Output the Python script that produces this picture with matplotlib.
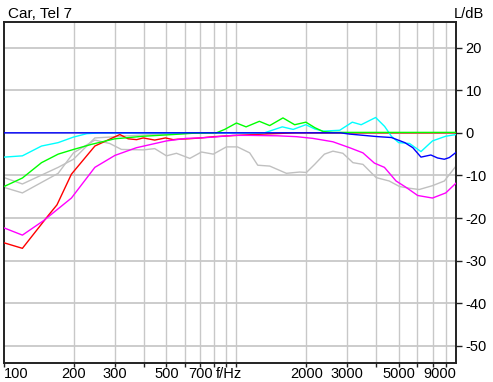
import matplotlib
matplotlib.use("Agg")
import matplotlib.pyplot as plt
from matplotlib.ticker import FixedLocator, NullLocator, NullFormatter

plt.rcParams['font.family'] = ['Liberation Sans', 'DejaVu Sans']

# Frequency response curves: (frequency in Hz, level in dB)
red_f = [100, 120, 155, 169, 195, 246, 267, 315, 342, 372, 397, 445, 495, 534, 560, 620, 700, 800, 1000, 1300, 1800, 9000]
red_db = [-25.8, -27.1, -19.4, -16.9, -9.7, -3.1, -2.2, -0.4, -1.4, -1.6, -1.2, -1.7, -1.2, -1.6, -1.5, -1.4, -1.2, -0.9, -0.6, -0.3, 0.0, 0.0]

magenta_f = [100, 120, 148, 195, 246, 300, 371, 500, 610, 700, 795, 965, 1140, 1500, 1810, 2130, 2600, 3070, 3500, 3920, 4330, 4860, 5370, 6020, 6970, 7950, 8800]
magenta_db = [-22.3, -24.0, -20.6, -15.3, -8.1, -5.3, -3.5, -1.9, -1.3, -1.2, -1.0, -0.6, -0.6, -0.7, -0.9, -1.3, -2.1, -3.5, -4.7, -7.1, -8.1, -11.3, -12.8, -14.7, -15.3, -14.1, -11.8]

cyan_f = [100, 120, 145, 171, 199, 227, 260, 1320, 1575, 1754, 1988, 2175, 2363, 2781, 3150, 3440, 3970, 4340, 4640, 4990, 5550, 6220, 6970, 7950, 8800]
cyan_db = [-5.7, -5.4, -3.1, -2.3, -1.0, -0.2, 0.0, 0.0, 1.4, 0.8, 1.9, 0.9, 0.4, 0.6, 2.5, 1.9, 3.6, 1.5, -0.8, -2.3, -2.5, -4.4, -1.9, -0.8, -0.4]

green_f = [100, 120, 145, 171, 199, 238, 300, 398, 534, 650, 820, 890, 1000, 1100, 1255, 1390, 1585, 1780, 1990, 2175, 2360, 2600, 8800]
green_db = [-12.6, -10.6, -7.0, -5.0, -3.9, -2.7, -1.4, -0.8, -0.4, -0.1, 0.0, 0.8, 2.3, 1.4, 2.7, 1.7, 3.5, 1.9, 2.5, 1.2, 0.3, 0.1, 0.1]

blue_f = [100, 2800, 3070, 4060, 4640, 5300, 5740, 6220, 6860, 7330, 7840, 8240, 8800]
blue_db = [0.0, 0.0, -0.3, -0.9, -1.1, -2.3, -3.5, -5.7, -5.2, -5.9, -6.2, -5.8, -4.6]

gray_a_f = [100, 120, 171, 199, 246, 285, 320, 400, 500, 700, 9000]
gray_a_db = [-10.5, -12.0, -8.1, -6.2, -1.2, -1.0, -0.8, -0.5, -0.3, 0.0, 0.0]

gray_b_f = [100, 120, 171, 199, 246, 285, 320, 398, 445, 500, 552, 630, 707, 795, 905, 1010, 1140, 1235, 1390, 1640, 1870, 2000, 2170, 2390, 2600, 2870, 3170, 3500, 3990, 4540, 5030, 5550, 6110, 6970, 7840, 8800]
gray_b_db = [-12.8, -14.1, -9.5, -4.7, -1.7, -2.5, -3.9, -4.0, -3.7, -5.4, -4.8, -6.0, -4.5, -5.0, -3.3, -3.3, -4.7, -7.6, -7.8, -9.5, -9.2, -9.3, -7.4, -5.0, -4.3, -4.8, -7.0, -7.4, -10.5, -11.3, -12.6, -13.0, -13.3, -12.4, -11.3, -7.8]

grid_freqs = [200, 300, 400, 500, 600, 700, 800, 900, 1000,
              2000, 3000, 4000, 5000, 6000, 7000, 8000]
x_label_freqs = [100, 200, 300, 500, 700, 2000, 3000, 5000]
x_labels = ["100", "200", "300", "500", "700", "2000", "3000", "5000"]
y_ticks = [20, 10, 0, -10, -20, -30, -40, -50]

F_MIN, F_MAX = 100, 8800
DB_MIN, DB_MAX = -54, 26

fig = plt.figure(figsize=(4.93, 3.82), dpi=100)
ax = fig.add_axes([4 / 493, 19 / 382, 452 / 493, 341 / 382])
ax.set_xscale("log")
ax.set_xlim(F_MIN, F_MAX)
ax.set_ylim(DB_MIN, DB_MAX)

grid_color = "#c8c8c8"
for f in grid_freqs:
    ax.axvline(f, color=grid_color, lw=1.0, zorder=1)
for y in y_ticks:
    ax.axhline(y, color=grid_color, lw=1.3, zorder=1)

lw = 1.0
ax.plot(gray_a_f, gray_a_db, color="#c0c0c0", lw=lw, zorder=2)
ax.plot(gray_b_f, gray_b_db, color="#c0c0c0", lw=lw, zorder=2)
ax.plot(red_f, red_db, color="#ff0000", lw=lw, zorder=3)
ax.plot(magenta_f, magenta_db, color="#ff00ff", lw=lw, zorder=4)
ax.plot(cyan_f, cyan_db, color="#00ffff", lw=lw, zorder=5)
ax.plot(green_f, green_db, color="#00ff00", lw=lw, zorder=6)
ax.plot(blue_f, blue_db, color="#0000ff", lw=lw, zorder=7)

for s in ax.spines.values():
    s.set_color("#222222")
    s.set_linewidth(1.4)

# y axis on the right
ax.yaxis.tick_right()
ax.yaxis.set_major_locator(FixedLocator(y_ticks))
ax.yaxis.set_minor_locator(NullLocator())
ax.set_yticklabels([str(v) for v in y_ticks])
ax.tick_params(axis="y", direction="out", length=4, width=1.0, color="#222222",
               labelsize=10.5, pad=3)

# x axis: short ticks, labels placed as text
ax.xaxis.set_major_locator(FixedLocator([100] + grid_freqs))
ax.xaxis.set_minor_locator(NullLocator())
ax.xaxis.set_major_formatter(NullFormatter())
ax.xaxis.set_minor_formatter(NullFormatter())
ax.tick_params(axis="x", direction="out", length=3, width=1.0, color="#222222")

trans = ax.get_xaxis_transform()
lab_y = -0.012
for f, t in zip(x_label_freqs, x_labels):
    ha = "left" if f == F_MIN else "center"
    ax.text(f, lab_y, t, transform=trans, ha=ha, va="top", fontsize=10.5)
ax.text(F_MAX, lab_y, "9000", transform=trans, ha="right", va="top", fontsize=10.5)
ax.text(930, lab_y, "f/Hz", transform=trans, ha="center", va="top", fontsize=10.5)

fig.text(8 / 493, 1 - 14 / 382, "Car, Tel 7", ha="left", va="center", fontsize=11)
fig.text(484 / 493, 1 - 14 / 382, "L/dB", ha="right", va="center", fontsize=10.5)

fig.savefig("out.png", dpi=100)
